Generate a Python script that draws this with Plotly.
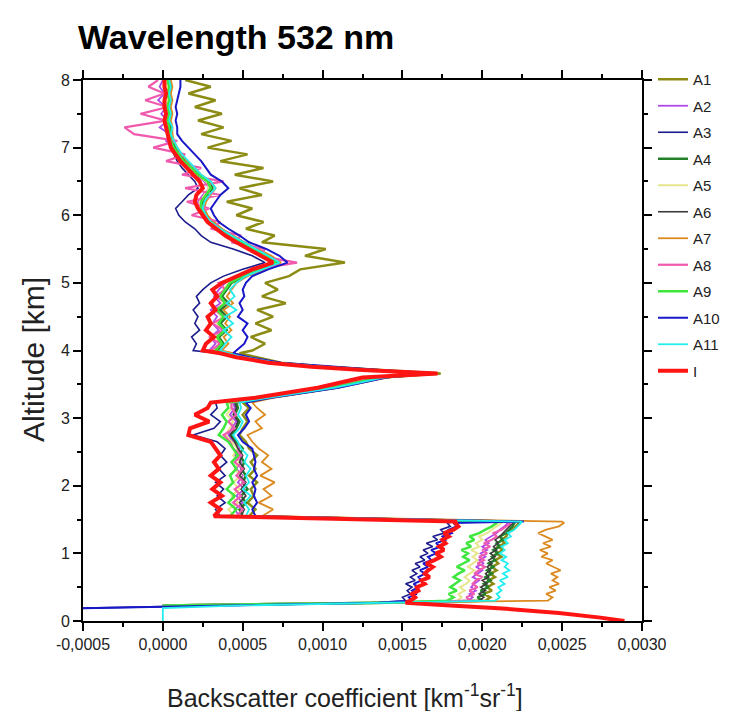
import numpy as np
import plotly.graph_objects as go

# ---------------- altitude grid (km) ----------------
ALT_SURF = [0.00, 0.05, 0.12, 0.19, 0.23, 0.27]
ALT_LOW = [0.30, 0.35, 0.40, 0.45, 0.50, 0.55, 0.60, 0.65, 0.70, 0.75, 0.80, 0.85,
           0.90, 0.95, 1.00, 1.05, 1.10, 1.15, 1.20, 1.25, 1.30, 1.35, 1.40, 1.45, 1.47]
ALT_MID = [1.55, 1.65, 1.75, 1.85, 1.95, 2.05, 2.15, 2.25, 2.35, 2.45, 2.55, 2.65,
           2.75, 2.85, 2.95, 3.05, 3.15, 3.23]
ALT_PEAK = [3.30, 3.37, 3.45, 3.53, 3.60, 3.66, 3.71, 3.76, 3.82, 3.90, 3.96]
ALT_UP = [4.0, 4.1, 4.2, 4.3, 4.4, 4.5, 4.6, 4.7, 4.8, 4.9, 5.0, 5.1, 5.2, 5.3, 5.4,
          5.5, 5.6, 5.7, 5.8, 5.9, 6.0, 6.1, 6.2, 6.3, 6.4, 6.5, 6.6, 6.7, 6.8, 6.9,
          7.0, 7.1, 7.2, 7.3, 7.4, 7.5, 7.6, 7.7, 7.8, 7.9, 8.0]
ALTITUDE = ALT_SURF + ALT_LOW + ALT_MID + ALT_PEAK + ALT_UP

# ---------------- backscatter values (units of 1e-4 km^-1 sr^-1) ----------------
A1 = [None, None, None, None, 0.0, 14.0,
      20.2, 20.5, 20.1, 20.6, 20.3, 20.7, 20.4, 20.8, 20.5, 20.9, 20.6, 21.0, 20.8, 21.2, 20.9, 21.3, 21.0, 21.4, 21.2, 21.5, 21.6, 21.9, 22.1, 22.3, 22.3,
      5.4, 5.8, 5.3, 5.7, 5.5, 5.9, 5.4, 5.8, 5.5, 5.9, 5.4, 5.2, 4.8, 5.0, 5.3, 5.0, 5.4, 5.0,
      6.6, 8.6, 10.8, 12.3, 13.8, 17.4, 13.4, 10.2, 7.4, 5.8, 4.8,
      5.6, 6.4, 5.5, 6.8, 5.8, 6.9, 5.9, 7.7, 6.2, 7.2, 6.4, 7.9, 8.6, 11.4, 8.9, 10.2, 6.2, 7.0, 5.2, 6.3,
      4.6, 5.6, 4.0, 6.2, 4.8, 6.9, 4.5, 6.3, 3.6, 5.3, 2.8, 4.3, 2.4, 3.8, 2.2, 3.7, 2.0, 3.3, 1.6, 3.0, 1.4]
A2 = [None, None, None, None, 0.0, 14.0,
      19.1, 19.4, 19.2, 19.6, 19.3, 19.5, 19.8, 19.4, 19.7, 20.0, 19.6, 20.1, 19.8, 20.2, 19.9, 20.3, 20.0, 20.4, 20.2, 20.6, 20.9, 21.1, 21.4, 21.6, 21.7,
      4.8, 4.5, 5.0, 4.6, 5.1, 4.7, 5.0, 4.6, 4.9, 4.5, 4.8, 4.4, 4.1, 4.3, 4.6, 4.2, 4.5, 4.4,
      6.5, 8.4, 10.6, 12.1, 13.5, 16.9, 13.0, 9.7, 6.9, 5.0, 4.0,
      2.9, 3.3, 3.0, 3.5, 3.1, 3.4, 3.0, 3.6, 3.2, 3.5, 3.9, 4.9, 5.9, 7.2, 6.4, 5.6, 4.8, 4.1, 3.4, 3.0,
      2.6, 2.3, 2.2, 2.5, 2.9, 2.6, 2.0, 1.6, 1.1, 0.9, 0.6, 0.2, 0.4, -0.2, 0.3, -0.1, 0.2, -0.3, 0.1, -0.2, 0.0]
A3 = [None, None, None, -5.0, 3.0, 13.0,
      15.2, 15.0, 15.5, 15.3, 15.6, 15.2, 15.8, 15.5, 15.9, 15.6, 16.1, 15.8, 16.4, 16.1, 16.6, 16.3, 16.9, 16.5, 17.2, 16.9, 17.6, 17.4, 18.0, 17.8, 18.3,
      3.6, 3.3, 3.9, 3.4, 3.8, 3.3, 3.9, 3.5, 4.0, 3.6, 3.9, 3.4, 1.9, 3.2, 3.6, 3.0, 3.4, 3.3,
      6.2, 8.2, 10.4, 12.0, 13.4, 16.8, 13.0, 9.8, 6.8, 4.7, 3.4,
      1.9, 2.1, 1.8, 2.3, 2.0, 2.2, 1.9, 2.3, 2.1, 2.5, 3.0, 3.8, 5.0, 6.4, 5.6, 4.4, 3.0, 2.4, 2.0, 1.4,
      1.0, 0.8, 1.2, 1.6, 2.2, 2.0, 1.6, 1.2, 0.9, 0.7, 0.5, 0.4, 0.4, 0.3, 0.3, 0.4, 0.3, 0.3, 0.4, 0.3, 0.3]
A4 = [None, None, None, None, 0.0, 14.0,
      20.0, 19.7, 20.2, 19.9, 20.4, 20.1, 20.5, 20.2, 20.6, 20.3, 20.7, 20.4, 20.8, 20.6, 21.0, 20.7, 21.1, 20.9, 21.3, 21.1, 21.5, 21.7, 21.9, 22.0, 22.1,
      5.0, 4.8, 5.2, 4.9, 5.3, 5.0, 5.2, 4.9, 5.1, 4.8, 5.0, 4.6, 4.3, 4.6, 4.8, 4.5, 4.7, 4.6,
      6.6, 8.5, 10.7, 12.3, 13.7, 17.0, 13.1, 9.9, 7.0, 5.1, 4.1,
      3.4, 3.8, 3.5, 4.0, 3.6, 4.0, 3.6, 4.1, 3.7, 4.0, 4.3, 5.1, 6.1, 7.2, 6.6, 5.8, 5.0, 4.3, 3.6, 3.1,
      2.7, 2.5, 2.5, 2.8, 3.1, 2.9, 2.3, 1.9, 1.4, 1.1, 0.8, 0.6, 0.5, 0.5, 0.4, 0.5, 0.4, 0.5, 0.4, 0.5, 0.4]
A5 = [None, None, None, None, 0.0, 14.0,
      18.4, 18.7, 18.5, 18.9, 18.6, 19.0, 19.2, 18.9, 19.2, 19.5, 19.1, 19.4, 19.7, 19.4, 19.7, 19.3, 19.8, 19.6, 20.0, 19.8, 20.3, 20.6, 20.9, 21.2, 21.3,
      4.5, 4.1, 4.7, 4.3, 4.8, 4.4, 4.9, 4.5, 4.8, 4.4, 4.7, 4.3, 3.9, 4.2, 4.4, 4.0, 4.3, 4.2,
      6.3, 8.3, 10.5, 12.1, 13.5, 16.9, 13.0, 9.7, 6.8, 4.8, 3.9,
      3.2, 3.6, 3.3, 3.8, 3.4, 3.7, 3.3, 3.8, 3.5, 3.8, 4.1, 4.9, 5.9, 7.0, 6.4, 5.6, 4.8, 4.1, 3.4, 2.9,
      2.5, 2.3, 2.3, 2.6, 2.9, 2.7, 2.1, 1.7, 1.2, 0.9, 0.6, 0.4, 0.3, 0.3, 0.2, 0.3, 0.2, 0.3, 0.2, 0.3, 0.2]
A6 = [None, None, None, None, 0.0, 14.0,
      19.8, 20.1, 19.8, 20.2, 19.9, 20.3, 20.0, 20.4, 20.2, 20.5, 20.3, 20.6, 20.4, 20.8, 20.5, 20.9, 20.7, 21.0, 20.8, 21.1, 21.3, 21.5, 21.7, 21.9, 22.0,
      4.9, 5.1, 4.8, 5.2, 4.9, 5.2, 4.8, 5.1, 4.8, 5.0, 4.7, 4.5, 4.2, 4.5, 4.7, 4.4, 4.6, 4.5,
      6.5, 8.5, 10.6, 12.2, 13.6, 17.0, 13.1, 9.8, 7.0, 5.0, 4.0,
      3.3, 3.6, 3.4, 3.8, 3.5, 3.9, 3.5, 4.0, 3.6, 3.9, 4.2, 5.0, 6.0, 7.1, 6.5, 5.7, 4.9, 4.2, 3.5, 3.0,
      2.6, 2.4, 2.4, 2.7, 3.0, 2.8, 2.2, 1.8, 1.3, 1.0, 0.7, 0.5, 0.4, 0.4, 0.3, 0.4, 0.3, 0.4, 0.3, 0.4, 0.3]
A7 = [None, None, None, None, 0.0, 14.0,
      24.1, 24.4, 24.0, 24.6, 24.2, 24.8, 24.4, 24.7, 24.3, 24.9, 24.5, 24.0, 24.4, 23.7, 24.1, 23.6, 24.3, 23.8, 24.4, 23.9, 23.5, 24.0, 24.8, 25.1, 25.0,
      6.2, 6.9, 6.0, 6.8, 6.3, 7.0, 6.1, 6.8, 6.2, 6.6, 6.0, 5.6, 5.3, 6.2, 5.8, 6.4, 5.9, 5.6,
      6.9, 8.9, 11.0, 12.6, 14.0, 17.1, 13.3, 10.0, 7.2, 5.4, 4.4,
      3.7, 4.1, 3.8, 4.3, 3.9, 4.2, 3.8, 4.4, 4.0, 4.3, 4.6, 5.3, 6.3, 7.4, 6.8, 5.9, 5.1, 4.4, 3.7, 3.2,
      2.8, 2.6, 2.7, 3.0, 3.3, 3.0, 2.4, 2.0, 1.5, 1.2, 0.9, 0.7, 0.6, 0.6, 0.5, 0.6, 0.5, 0.6, 0.5, 0.6, 0.5]
A8 = [None, None, None, None, 0.0, 14.0,
      19.3, 19.0, 19.5, 19.2, 19.7, 19.4, 19.6, 20.0, 19.5, 19.8, 20.2, 19.7, 20.1, 19.8, 20.3, 20.0, 20.5, 20.1, 20.6, 20.9, 20.7, 21.2, 21.5, 21.8, 21.8,
      4.6, 5.0, 4.4, 4.9, 4.5, 5.1, 4.6, 5.0, 4.5, 4.9, 4.4, 4.2, 3.8, 4.5, 4.1, 4.6, 4.3, 4.3,
      6.4, 8.3, 10.5, 12.0, 13.4, 16.8, 12.9, 9.6, 6.9, 4.9, 3.8,
      3.0, 3.6, 2.9, 3.8, 3.1, 3.9, 3.2, 4.0, 3.3, 3.9, 3.5, 5.0, 5.8, 8.4, 6.0, 6.4, 4.3, 4.9, 3.0, 3.6,
      1.8, 2.9, 1.5, 3.6, 1.4, 3.8, 1.2, 2.4, 0.2, 1.4, -0.6, 0.9, -1.8, -2.4, 0.2, -1.4, 0.3, -1.1, 0.1, -0.9, -0.3]
A9 = [None, None, None, None, 0.0, 14.0,
      17.8, 18.2, 17.9, 18.4, 18.0, 18.3, 18.6, 18.2, 18.5, 18.9, 18.4, 18.8, 19.2, 18.8, 19.1, 18.7, 19.3, 19.0, 19.5, 19.2, 19.8, 20.2, 20.6, 20.9, 21.0,
      4.2, 4.6, 4.1, 4.5, 4.0, 4.4, 4.2, 4.6, 4.3, 4.7, 4.4, 4.1, 3.5, 3.8, 4.0, 3.7, 4.1, 4.0,
      6.4, 8.4, 10.6, 12.2, 13.6, 16.7, 13.0, 9.8, 6.9, 4.9, 3.9,
      3.3, 3.7, 3.4, 3.9, 3.5, 3.8, 3.4, 3.9, 3.6, 3.9, 4.2, 5.0, 6.0, 7.1, 6.5, 5.7, 4.9, 4.2, 3.5, 3.0,
      2.6, 2.4, 2.4, 2.7, 3.0, 2.8, 2.2, 1.8, 1.3, 1.0, 0.7, 0.5, 0.4, 0.4, 0.3, 0.4, 0.3, 0.4, 0.3, 0.4, 0.3]
A10 = [None, None, None, -5.0, 3.5, 13.5,
       15.6, 15.4, 15.9, 15.6, 16.0, 15.7, 16.2, 16.0, 16.4, 16.1, 16.6, 16.3, 16.8, 16.6, 17.1, 16.8, 17.4, 17.1, 17.7, 17.5, 18.1, 17.9, 18.4, 18.2, 22.6,
       5.8, 5.6, 5.9, 5.7, 5.8, 5.6, 5.9, 5.7, 5.8, 5.7, 5.6, 5.0, 4.7, 5.1, 5.4, 5.2, 5.5, 5.2,
       6.8, 8.8, 11.0, 12.6, 14.0, 16.6, 13.6, 10.4, 7.4, 5.4, 4.4,
       4.6, 5.1, 5.3, 5.0, 5.3, 4.7, 5.0, 4.8, 5.1, 5.0, 5.2, 5.6, 6.6, 7.8, 7.3, 6.5, 5.4, 4.8, 4.1, 3.5,
       3.2, 3.0, 3.3, 3.6, 4.1, 3.7, 3.0, 2.7, 2.4, 2.0, 1.6, 1.2, 0.9, 0.9, 0.8, 0.9, 0.8, 0.9, 1.0, 1.1, 1.1]
A11 = [0.0, 0.0, 0.0, 0.0, 5.0, 14.0,
       20.8, 21.1, 20.9, 21.2, 21.0, 21.4, 21.1, 21.6, 21.3, 21.7, 21.4, 21.6, 21.2, 21.5, 21.1, 21.4, 21.2, 21.6, 21.4, 21.8, 21.6, 22.0, 22.2, 22.4, 22.5,
       5.2, 5.4, 5.1, 5.5, 5.0, 5.4, 5.2, 5.5, 5.1, 5.3, 4.9, 4.7, 4.4, 4.8, 5.0, 4.7, 4.9, 4.8,
       6.6, 8.6, 10.8, 12.4, 13.8, 16.4, 13.2, 10.0, 7.1, 5.1, 4.1,
       3.6, 3.9, 4.3, 3.8, 4.4, 3.9, 4.6, 4.0, 4.5, 4.2, 4.6, 5.2, 6.2, 7.3, 6.6, 5.8, 5.0, 4.3, 3.6, 3.0,
       2.7, 2.5, 2.6, 2.9, 3.3, 3.0, 2.4, 2.0, 1.6, 1.2, 0.9, 0.7, 0.5, 0.6, 0.4, 0.5, 0.4, 0.5, 0.4, 0.5, 0.4]
I = [28.9, 27.4, 24.8, 21.0, 18.0, 15.2,
     15.5, 15.8, 15.6, 16.0, 15.9, 16.4, 16.2, 16.7, 16.4, 16.6, 16.9, 16.5, 17.0, 17.4, 17.1, 17.6, 17.3, 17.7, 17.5, 17.9, 17.6, 18.2, 18.5, 18.3, 18.4,
     3.2, 3.6, 3.0, 3.7, 3.1, 3.6, 3.0, 3.5, 3.2, 3.6, 3.3, 3.0, 1.6, 1.7, 2.9, 2.0, 2.8, 3.0,
     5.8, 7.6, 9.7, 11.2, 12.5, 17.2, 12.5, 9.3, 6.6, 4.6, 3.6,
     2.5, 2.7, 3.2, 2.7, 3.0, 2.8, 3.3, 3.0, 3.4, 3.1, 3.7, 4.6, 5.6, 6.9, 6.1, 5.3, 4.6, 3.9, 3.3, 2.8,
     2.5, 2.2, 2.0, 2.1, 2.5, 2.3, 1.9, 1.5, 1.1, 0.8, 0.5, 0.4, 0.3, 0.2, 0.1, 0.2, 0.1, 0.1, 0.2, 0.1, 0.1]

SCALE = 1e-4
SERIES_NAMES = ["A1", "A2", "A3", "A4", "A5", "A6", "A7", "A8", "A9", "A10", "A11", "I"]
SERIES_VALUES = [A1, A2, A3, A4, A5, A6, A7, A8, A9, A10, A11, I]
COLORS = ["#8c8c14", "#b048e8", "#1c1c8c", "#23802a", "#e6e68c", "#3c3c3c",
          "#dc8a20", "#f05aae", "#3ee63e", "#1818c8", "#22eeee", "#ff1414"]
WIDTHS = [2.5, 1.8, 1.6, 2.5, 2.0, 1.6, 1.8, 2.2, 2.5, 2.0, 1.8, 4.0]

X_TICKS = [-0.0005, 0.0, 0.0005, 0.0010, 0.0015, 0.0020, 0.0025, 0.0030]
X_TICK_TEXT = ["-0,0005", "0,0000", "0,0005", "0,0010", "0,0015", "0,0020", "0,0025", "0,0030"]

fig = go.Figure()
for name, vals, col, w in zip(SERIES_NAMES, SERIES_VALUES, COLORS, WIDTHS):
    assert len(vals) == len(ALTITUDE), (name, len(vals), len(ALTITUDE))
    x = np.array(vals, dtype=float) * SCALE
    fig.add_trace(go.Scatter(x=x, y=ALTITUDE, mode="lines", name=name, legendgroup=name,
                             line=dict(color=col, width=w), connectgaps=False))

FONT = "Liberation Sans, Arial, sans-serif"
axis_common = dict(showline=True, linecolor="black", linewidth=2, mirror="allticks",
                   ticks="outside", ticklen=8, tickwidth=1.5, tickcolor="black",
                   showgrid=False, zeroline=False, automargin=False,
                   tickfont=dict(family=FONT, size=16, color="#222"))

PLOT_L, PLOT_R, PLOT_T, PLOT_B = 75, 634, 72, 613
fig.update_layout(
    width=733, height=711,
    paper_bgcolor="white", plot_bgcolor="white",
    margin=dict(l=PLOT_L, r=733 - PLOT_R, t=PLOT_T, b=711 - PLOT_B, autoexpand=False),
    title=dict(text="<b>Wavelength 532 nm</b>", x=70/733, xanchor="left",
               y=1 - 29/711, yanchor="middle",
               font=dict(family=FONT, size=34, color="black")),
    xaxis=dict(range=[-0.0005, 0.0030], tickvals=X_TICKS, ticktext=X_TICK_TEXT,
               minor=dict(dtick=0.00025, ticks="outside", ticklen=4, tickcolor="black", tickwidth=1.5),
               **axis_common),
    yaxis=dict(range=[0, 8], dtick=1, tick0=0,
               minor=dict(dtick=0.5, ticks="outside", ticklen=4, tickcolor="black", tickwidth=1.5),
               **axis_common),
    legend=dict(x=(645 - PLOT_L) / (PLOT_R - PLOT_L), xanchor="left",
                y=1 + 17/541, yanchor="top", tracegroupgap=4,
                font=dict(family=FONT, size=15, color="#222"), bgcolor="rgba(0,0,0,0)",
                borderwidth=0),
    showlegend=True,
    annotations=[
        dict(text="Backscatter coefficient [km<sup>-1</sup>sr<sup>-1</sup>]",
             xref="paper", yref="paper",
             x=(337 - PLOT_L) / (PLOT_R - PLOT_L), y=-(688 - PLOT_B) / (PLOT_B - PLOT_T),
             xanchor="center", yanchor="middle", showarrow=False,
             font=dict(family=FONT, size=25, color="#222")),
        dict(text="Altitude [km]", textangle=-90,
             xref="paper", yref="paper",
             x=-(PLOT_L - 25) / (PLOT_R - PLOT_L), y=(PLOT_B - 352) / (PLOT_B - PLOT_T),
             xanchor="center", yanchor="middle", showarrow=False,
             font=dict(family=FONT, size=30, color="#222")),
    ],
)

fig.write_html("out.html")
